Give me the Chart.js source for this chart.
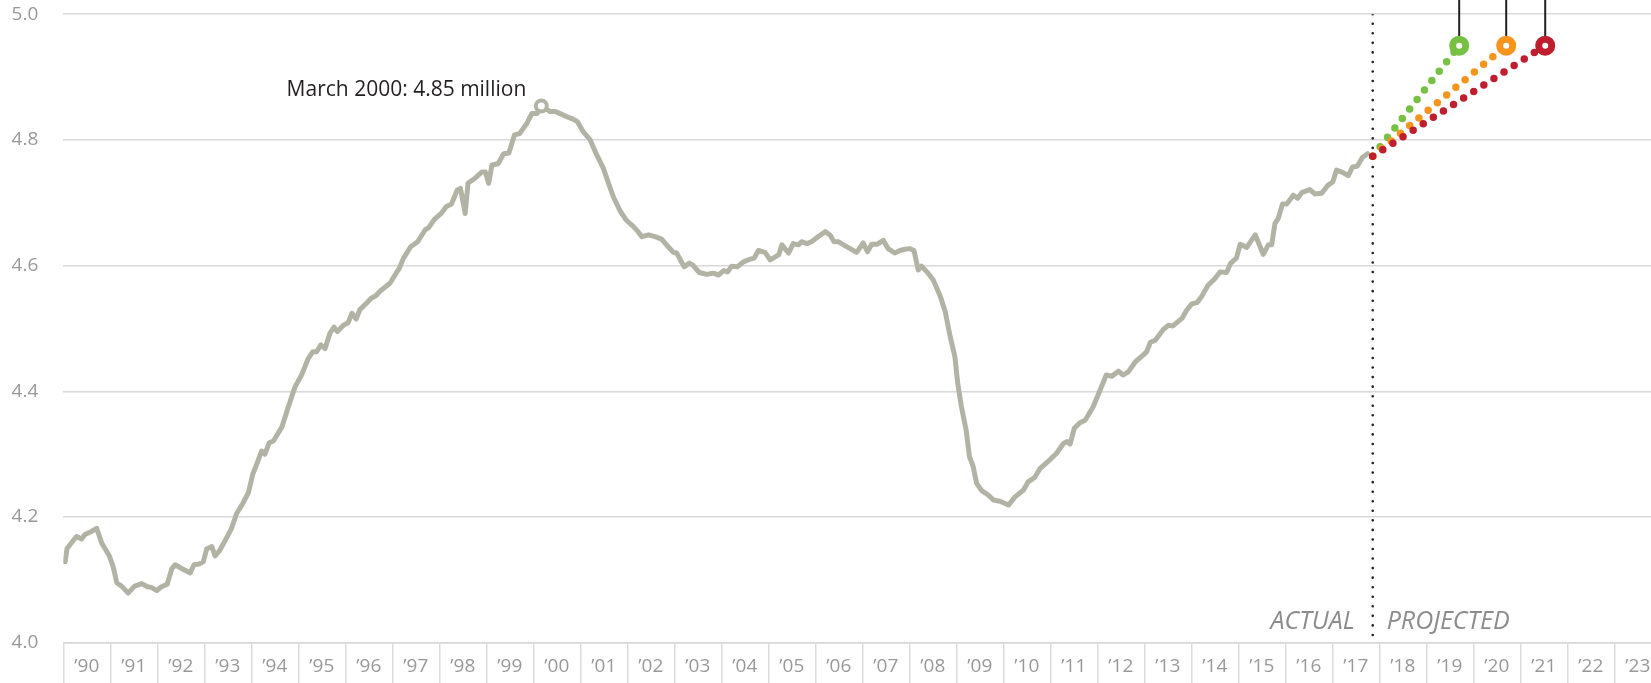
<!DOCTYPE html>
<html>
<head>
<meta charset="utf-8">
<script src="https://cdn.jsdelivr.net/npm/chart.js@4/dist/chart.umd.min.js"></script>
<style>
  html, body { margin: 0; padding: 0; background: #fff; overflow: hidden; }
  #wrap { width: 1651px; height: 683px; position: relative; }
</style>
</head>
<body>
<div id="wrap"><canvas id="c" width="1651" height="683"></canvas></div>
<script>
// ---- DATA (values in millions) ----
const years = [
  1990.04,1990.08,1990.28,1990.39,1990.46,1990.60,1990.71,1990.82,1990.91,1990.98,
  1991.06,1991.14,1991.24,1991.38,1991.52,1991.67,1991.79,1991.87,1991.99,
  1992.09,1992.21,1992.31,1992.38,1992.52,1992.70,1992.78,1992.89,1992.98,
  1993.05,1993.16,1993.23,1993.32,1993.44,1993.58,1993.69,1993.80,1993.94,
  1994.03,1994.11,1994.22,1994.29,1994.38,1994.47,1994.65,1994.79,1994.93,
  1995.07,1995.21,1995.31,1995.39,1995.48,1995.57,1995.67,1995.76,1995.83,1995.96,
  1996.06,1996.14,1996.23,1996.31,1996.45,1996.55,1996.65,1996.75,1996.85,1996.95,
  1997.05,1997.15,1997.24,1997.39,1997.54,1997.70,1997.77,1997.89,
  1998.04,1998.15,1998.26,1998.38,1998.45,1998.55,1998.61,1998.76,1998.91,1998.98,
  1999.05,1999.12,1999.25,1999.37,1999.48,1999.60,1999.71,1999.86,1999.97,
  2000.08,2000.17,2000.36,2000.47,2000.60,2000.71,2000.82,2000.94,
  2001.06,2001.21,2001.35,2001.49,2001.60,2001.70,2001.84,2001.97,
  2002.13,2002.23,2002.31,2002.45,2002.59,2002.73,2002.87,2002.98,
  2003.05,2003.21,2003.32,2003.39,2003.53,2003.69,2003.83,2003.94,
  2004.05,2004.13,2004.22,2004.34,2004.47,2004.60,2004.70,2004.79,2004.93,
  2005.04,2005.22,2005.29,2005.43,2005.53,2005.64,2005.71,2005.82,2005.92,
  2006.06,2006.21,2006.31,2006.40,2006.49,2006.60,2006.74,2006.88,
  2007.02,2007.11,2007.20,2007.31,2007.45,2007.55,2007.69,2007.80,2007.91,
  2008.01,2008.10,2008.19,2008.26,2008.40,2008.51,2008.65,2008.76,2008.87,2008.97,
  2009.03,2009.11,2009.21,2009.28,2009.36,2009.43,2009.54,2009.68,2009.79,2009.93,
  2010.11,2010.25,2010.43,2010.53,2010.67,2010.78,2010.99,
  2011.13,2011.28,2011.36,2011.42,2011.51,2011.63,2011.74,2011.91,
  2012.06,2012.19,2012.31,2012.45,2012.55,2012.66,2012.81,2012.98,
  2013.05,2013.13,2013.23,2013.40,2013.51,2013.61,2013.80,2013.90,
  2014.01,2014.12,2014.22,2014.36,2014.50,2014.61,2014.75,2014.84,2014.96,
  2015.04,2015.18,2015.36,2015.53,2015.64,2015.71,2015.78,2015.85,2015.94,
  2016.03,2016.17,2016.26,2016.35,2016.52,2016.63,2016.77,2016.91,
  2017.01,2017.09,2017.23,2017.34,2017.43,2017.53,2017.64,2017.75
];
const jobs = [
  4.129,4.150,4.169,4.165,4.172,4.177,4.182,4.158,4.147,4.138,
  4.121,4.095,4.090,4.079,4.090,4.094,4.089,4.088,4.083,
  4.089,4.093,4.118,4.124,4.118,4.111,4.124,4.125,4.129,
  4.149,4.153,4.138,4.146,4.162,4.182,4.206,4.219,4.239,
  4.268,4.283,4.305,4.300,4.318,4.321,4.343,4.376,4.407,
  4.426,4.452,4.463,4.463,4.474,4.468,4.492,4.502,4.495,4.505,
  4.509,4.524,4.515,4.530,4.540,4.548,4.552,4.560,4.566,4.572,
  4.584,4.596,4.612,4.630,4.638,4.657,4.660,4.673,
  4.683,4.694,4.698,4.720,4.723,4.683,4.731,4.739,4.749,4.749,
  4.731,4.760,4.762,4.778,4.779,4.808,4.810,4.826,4.842,
  4.842,4.854,4.845,4.845,4.841,4.837,4.834,4.829,
  4.813,4.800,4.776,4.755,4.731,4.710,4.688,4.673,
  4.662,4.654,4.646,4.649,4.646,4.642,4.630,4.621,
  4.620,4.598,4.604,4.601,4.589,4.586,4.588,4.585,
  4.592,4.590,4.599,4.598,4.606,4.610,4.612,4.624,4.621,
  4.609,4.617,4.633,4.620,4.635,4.633,4.638,4.635,4.638,
  4.646,4.654,4.649,4.638,4.638,4.633,4.627,4.621,
  4.636,4.622,4.634,4.634,4.640,4.627,4.620,4.624,4.626,
  4.627,4.624,4.593,4.599,4.588,4.577,4.553,4.528,4.487,4.455,
  4.413,4.375,4.338,4.296,4.280,4.254,4.242,4.235,4.227,4.225,
  4.219,4.232,4.243,4.256,4.263,4.277,4.291,
  4.301,4.317,4.320,4.316,4.341,4.350,4.354,4.375,
  4.402,4.426,4.424,4.432,4.426,4.431,4.447,4.458,
  4.463,4.478,4.481,4.498,4.505,4.504,4.516,4.529,
  4.539,4.541,4.551,4.569,4.579,4.590,4.589,4.604,4.612,
  4.634,4.629,4.649,4.618,4.633,4.633,4.667,4.675,4.698,
  4.698,4.712,4.707,4.716,4.721,4.714,4.715,4.728,
  4.733,4.752,4.748,4.743,4.757,4.758,4.772,4.778
];
const peakYear = 2000.17;
const peakValue = 4.854;
const peakLabel = 'March 2000: 4.85 million';

const splitYear = 2017.86;          // boundary between actual and projected
const projectionStartValue = 4.774;
const scenarioTargetYears = [2019.70, 2020.70, 2021.53];
const scenarioTargetValues = [4.95, 4.95, 4.95];

const yearLabels = ['’90','’91','’92','’93','’94','’95','’96','’97','’98','’99',
  '’00','’01','’02','’03','’04','’05','’06','’07','’08','’09',
  '’10','’11','’12','’13','’14','’15','’16','’17','’18','’19',
  '’20','’21','’22','’23'];
const yTicks = [4.0, 4.2, 4.4, 4.6, 4.8, 5.0];

// ---- STYLE ----
const scenarioColors = ['#76c043', '#f7941d', '#be1e2d'];
const FONT = '"Open Sans", "Noto Sans", sans-serif';

const actualData = years.map((yr, i) => ({x: yr, y: jobs[i]}));

const datasets = [];
datasets.push({
  label: 'actual', data: actualData, borderColor: '#b3b3a5', borderWidth: 5,
  pointRadius: 0, tension: 0, borderJoinStyle: 'round', borderCapStyle: 'round', order: 20
});
datasets.push({
  label: 'split', data: [{x: splitYear, y: 5.0}, {x: splitYear, y: 4.0}],
  borderColor: '#231f20', borderWidth: 2.6, borderDash: [0, 9.55], borderCapStyle: 'round',
  pointRadius: 0, order: 19
});
scenarioTargetYears.forEach((ty, i) => {
  datasets.push({
    label: 'proj' + i,
    data: [{x: splitYear, y: projectionStartValue}, {x: ty, y: scenarioTargetValues[i]}],
    borderColor: scenarioColors[i], borderWidth: 7.5, borderDash: [0, 12], borderCapStyle: 'round',
    pointRadius: 0, order: 15 - i
  });
  datasets.push({
    label: 'stem' + i,
    data: [{x: ty, y: scenarioTargetValues[i]}, {x: ty, y: 5.06}],
    borderColor: '#231f20', borderWidth: 2, pointRadius: 0, clip: false, order: 8
  });
});
datasets.push({
  label: 'markers',
  data: scenarioTargetYears.map((ty, i) => ({x: ty, y: scenarioTargetValues[i]})),
  showLine: false, pointRadius: 6.5, pointBorderWidth: 7,
  pointBackgroundColor: '#ffffff', pointBorderColor: scenarioColors, pointHoverRadius: 6.5,
  clip: false, order: 2
});
datasets.push({
  label: 'peak', data: [{x: peakYear, y: peakValue}],
  showLine: false, pointRadius: 5.5, pointBorderWidth: 4,
  pointBackgroundColor: '#ffffff', pointBorderColor: '#b3b3a5', clip: false, order: 1
});

const textPlugin = {
  id: 'texts',
  afterDatasetsDraw(chart) {
    const {ctx, scales: {x, y}} = chart;
    ctx.save();
    ctx.font = '21px ' + FONT;
    ctx.fillStyle = '#231f20';
    ctx.textAlign = 'right';
    ctx.textBaseline = 'alphabetic';
    ctx.fillText(peakLabel, x.getPixelForValue(peakYear) - 15, y.getPixelForValue(peakValue) - 9.5);
    ctx.font = 'italic 25px ' + FONT;
    ctx.fillStyle = '#8c8c8c';
    const dx = x.getPixelForValue(splitYear);
    const by = y.getPixelForValue(4.0) - 13.7;
    ctx.textAlign = 'right';
    ctx.fillText('ACTUAL', dx - 18, by);
    ctx.textAlign = 'left';
    ctx.fillText('PROJECTED', dx + 14, by);
    ctx.restore();
  }
};

function build() {
  new Chart(document.getElementById('c'), {
    type: 'line',
    data: {datasets},
    plugins: [textPlugin],
    options: {
      responsive: false,
      animation: false,
      events: [],
      layout: {autoPadding: false, padding: {top: 14.2, right: 0, bottom: 0, left: 0}},
      plugins: {legend: {display: false}, tooltip: {enabled: false}},
      scales: {
        x: {
          type: 'linear', min: 1990, max: 1990 + (1651 - 63.3) / 47,
          afterBuildTicks: (s) => { s.ticks = yearLabels.map((_, i) => ({value: 1990.5 + i})); },
          afterFit: (s) => { s.height = 683 - 642.7; s.paddingLeft = 0; s.paddingRight = 0; },
          ticks: {
            autoSkip: false, maxRotation: 0, minRotation: 0, padding: -29,
            color: '#999999', font: {family: FONT, size: 19},
            callback: (v) => yearLabels[Math.floor(v) - 1990]
          },
          grid: {offset: true, drawOnChartArea: false, drawTicks: true, tickLength: 41,
                 color: '#dcdcdc', lineWidth: 1.5},
          border: {display: true, color: '#d8d8d8', width: 1.5}
        },
        y: {
          type: 'linear', min: 4.0, max: 5.0,
          afterBuildTicks: (s) => { s.ticks = yTicks.map(v => ({value: v})); },
          afterFit: (s) => { s.width = 63.3; s.paddingTop = 0; s.paddingBottom = 0; },
          ticks: {
            padding: 25, color: '#999999', font: {family: FONT, size: 19},
            callback: (v) => Number(v).toFixed(1)
          },
          grid: {drawTicks: false, color: '#d8d8d8', lineWidth: 1.5},
          border: {display: false}
        }
      }
    }
  });
}
if (document.fonts && document.fonts.load) {
  Promise.all([
    document.fonts.load('19px "Open Sans"'),
    document.fonts.load('italic 25px "Open Sans"')
  ]).then(build, build);
} else { build(); }
</script>
</body>
</html>
